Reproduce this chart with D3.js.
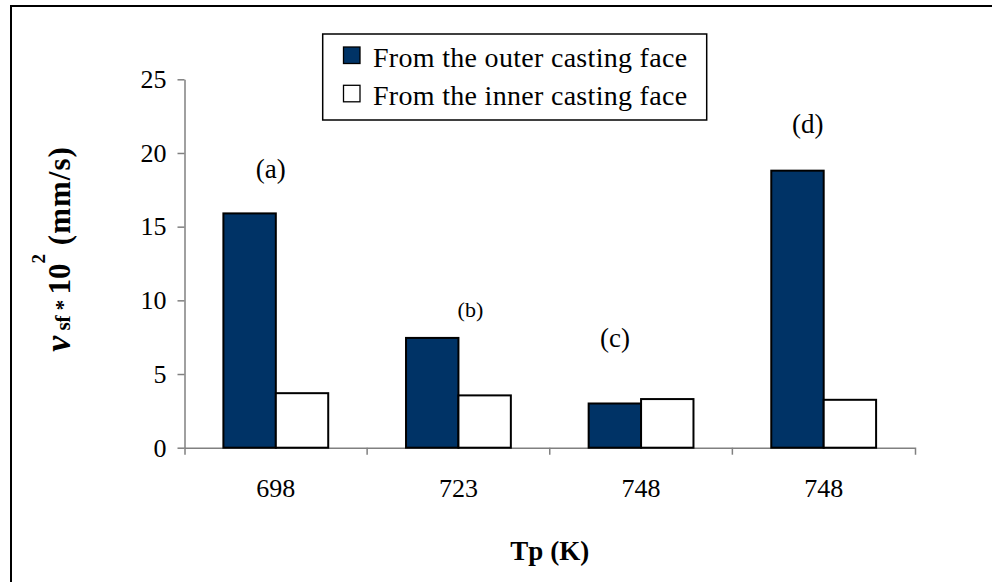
<!DOCTYPE html>
<html>
<head>
<meta charset="utf-8">
<script src="https://cdn.jsdelivr.net/npm/d3@7"></script>
<style>
  body { margin: 0; background: #fff; }
  text { font-family: "Liberation Serif", "Times New Roman", serif; fill: #000; }
</style>
</head>
<body>
<script>
// chart values
var groups = ['a', 'b', 'c', 'd'];
var tickLabels = ['698', '723', '748', '748'];
var seriesNames = ['From the outer casting face', 'From the inner casting face'];
var outerFace = [15.9, 7.45, 3.0, 18.8];
var innerFace = [3.7, 3.55, 3.3, 3.25];
var yTicks = [0, 5, 10, 15, 20, 25];
var annotations = ['(a)', '(b)', '(c)', '(d)'];
var annotationY = [18.3, 8.87, 6.83, 21.36];

var width = 992, height = 582;
var colors = ['#003366', '#ffffff'];
var axisColor = '#808080';

var svg = d3.select('body').append('svg')
    .attr('width', width)
    .attr('height', height);

// outer frame (only left and top edges fall inside the picture)
svg.append('path')
    .attr('d', 'M11,' + height + 'V6H' + width)
    .attr('fill', 'none')
    .attr('stroke', '#000')
    .attr('stroke-width', 2);

var x0 = d3.scaleBand().domain(groups).range([184.5, 915]);
var x1 = d3.scaleBand().domain([0, 1])
    .range([x0.bandwidth() * 0.213, x0.bandwidth() * 0.787]);
var y = d3.scaleLinear().domain([0, 25]).range([447.7, 79.3]);

// y axis
var yAxis = svg.append('g')
    .attr('transform', 'translate(' + x0.range()[0] + ',0)')
    .call(d3.axisLeft(y).tickValues(yTicks).tickSize(7).tickSizeOuter(0).tickPadding(11));
yAxis.selectAll('path, line').attr('stroke', axisColor).attr('stroke-width', 1.5);
yAxis.selectAll('text').style('font-size', '26px')
    .style('font-family', '"Liberation Serif", serif');

// x axis: labels + domain with end ticks
var xAxis = svg.append('g')
    .attr('transform', 'translate(0,' + y(0) + ')')
    .call(d3.axisBottom(x0)
        .tickFormat(function(d, i) { return tickLabels[i]; })
        .tickSizeInner(0).tickSizeOuter(7).tickPadding(31));
xAxis.selectAll('path').attr('stroke', axisColor).attr('stroke-width', 1.5);
xAxis.selectAll('text').style('font-size', '26px')
    .style('font-family', '"Liberation Serif", serif');
xAxis.selectAll('.boundary')
    .data(groups.slice(1))
    .enter().append('line')
    .attr('x1', function(d) { return x0(d); })
    .attr('x2', function(d) { return x0(d); })
    .attr('y1', 0).attr('y2', 7)
    .attr('stroke', axisColor).attr('stroke-width', 1.5);

// bars
var series = [outerFace, innerFace];
var barG = svg.append('g');
series.forEach(function(vals, s) {
    barG.selectAll('.bar' + s)
        .data(groups)
        .enter().append('rect')
        .attr('x', function(d) { return x0(d) + x1(s); })
        .attr('width', x1.bandwidth())
        .attr('y', function(d, i) { return y(vals[i]); })
        .attr('height', function(d, i) { return y(0) - y(vals[i]); })
        .attr('fill', colors[s])
        .attr('stroke', '#000')
        .attr('stroke-width', 2);
});

// annotations over the groups
var annDx = [-5, 12, -26, -16];
var annSize = [27, 22, 27, 27];
svg.selectAll('.ann')
    .data(annotations)
    .enter().append('text')
    .attr('x', function(d, i) { return x0(groups[i]) + x0.bandwidth() / 2 + annDx[i]; })
    .attr('y', function(d, i) { return y(annotationY[i]); })
    .attr('text-anchor', 'middle')
    .style('font-size', function(d, i) { return annSize[i] + 'px'; })
    .text(function(d) { return d; });

// legend
var legend = svg.append('g');
legend.append('rect')
    .attr('x', 322.7).attr('y', 34)
    .attr('width', 384).attr('height', 86)
    .attr('fill', '#fff').attr('stroke', '#000').attr('stroke-width', 1.5);
seriesNames.forEach(function(name, i) {
    legend.append('rect')
        .attr('x', 343.5).attr('y', 47 + i * 38.3)
        .attr('width', 16.5).attr('height', 16.5)
        .attr('fill', colors[i]).attr('stroke', '#000').attr('stroke-width', 1.3);
    legend.append('text')
        .attr('x', 373).attr('y', 67.3 + i * 38)
        .style('font-size', '28px')
        .style('letter-spacing', '0.3px')
        .text(name);
});

// axis titles
svg.append('text')
    .attr('x', (x0.range()[0] + x0.range()[1]) / 2)
    .attr('y', 560)
    .attr('text-anchor', 'middle')
    .style('font-size', '27px')
    .style('font-weight', 'bold')
    .text('Tp (K)');

var yLabel = svg.append('text')
    .attr('transform', 'translate(70,249) rotate(-90)')
    .attr('text-anchor', 'middle')
    .style('font-weight', 'bold');
yLabel.append('tspan').style('font-size', '36px').style('font-style', 'italic').text('\u03bd');
yLabel.append('tspan').style('font-size', '21px').text(' sf * ');
yLabel.append('tspan').style('font-size', '31px').text('10');
yLabel.append('tspan').style('font-size', '19px').attr('dy', -25).text('2');
yLabel.append('tspan').style('font-size', '31px').attr('dy', 25)
    .style('letter-spacing', '1px').text(' (mm/s)');
</script>
</body>
</html>
